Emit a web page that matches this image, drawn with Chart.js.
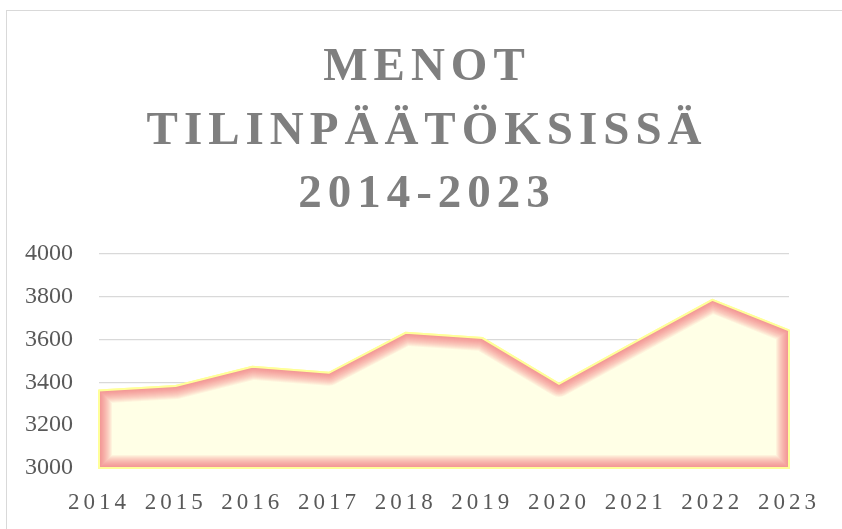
<!DOCTYPE html>
<html>
<head>
<meta charset="utf-8">
<script src="https://cdn.jsdelivr.net/npm/chart.js@4.4.1/dist/chart.umd.min.js"></script>
<style>
  html, body { margin: 0; padding: 0; background: #ffffff; }
  canvas { display: block; }
</style>
</head>
<body>
<canvas id="c" width="842" height="529"></canvas>
<script>
// ---- data ----
const titleLines = ["MENOT", "TILINPÄÄTÖKSISSÄ", "2014-2023"];
const years = ["2014", "2015", "2016", "2017", "2018", "2019", "2020", "2021", "2022", "2023"];
const menot = [3362, 3383, 3473, 3445, 3632, 3607, 3393, 3590, 3786, 3643];
const yMin = 3000;
const yMax = 4000;
const yStep = 200;

const SERIF = '"Liberation Serif", "Times New Roman", serif';
const CREAM = '#FFFFE6';
const EDGE_YELLOW = '#FFFF99';

const frame = {
  id: 'frame',
  beforeDraw(chart) {
    const ctx = chart.ctx;
    ctx.save();
    ctx.fillStyle = '#ffffff';
    ctx.fillRect(0, 0, chart.width, chart.height);
    ctx.strokeStyle = '#D9D9D9';
    ctx.lineWidth = 1;
    ctx.strokeRect(6.5, 10.5, 900, 600);
    ctx.restore();
  }
};

const glow = {
  id: 'glow',
  afterDatasetsDraw(chart) {
    const ctx = chart.ctx;
    const pts = chart.getDatasetMeta(0).data;
    const base = chart.scales.y.getPixelForValue(yMin);
    const path = new Path2D();
    path.moveTo(pts[0].x, base);
    pts.forEach(p => path.lineTo(p.x, p.y));
    path.lineTo(pts[pts.length - 1].x, base);
    path.closePath();

    ctx.save();
    ctx.clip(path);
    ctx.fillStyle = CREAM;
    ctx.fill(path);
    ctx.lineJoin = 'round';
    const N = 13;
    for (let i = N; i >= 1; i--) {
      ctx.lineWidth = 2 * i;
      ctx.strokeStyle = 'rgba(238,100,112,0.075)';
      ctx.stroke(path);
    }
    ctx.restore();

    ctx.save();
    ctx.lineWidth = 2;
    ctx.strokeStyle = EDGE_YELLOW;
    ctx.lineJoin = 'miter';
    ctx.stroke(path);
    ctx.restore();

    // letter spacing for the x tick labels (drawn in a later layer)
    ctx.letterSpacing = '4px';
  },
  afterDraw(chart) {
    const ctx = chart.ctx;
    ctx.save();
    ctx.letterSpacing = '6px';
    ctx.font = 'bold 47px ' + SERIF;
    ctx.fillStyle = '#7F7F7F';
    ctx.textAlign = 'center';
    ctx.textBaseline = 'alphabetic';
    const baselines = [80, 143.5, 207];
    titleLines.forEach((t, i) => ctx.fillText(t, 424 + 3, baselines[i]));
    ctx.restore();
    ctx.letterSpacing = '0px';
  }
};

new Chart(document.getElementById('c'), {
  type: 'line',
  data: {
    labels: years,
    datasets: [{
      label: 'Menot',
      data: menot,
      fill: 'start',
      backgroundColor: CREAM,
      borderColor: EDGE_YELLOW,
      borderWidth: 2,
      pointRadius: 0,
      tension: 0
    }]
  },
  options: {
    responsive: false,
    animation: false,
    events: [],
    layout: { padding: { left: 6, right: 53, top: 254, bottom: 0 } },
    plugins: {
      legend: { display: false },
      title: { display: false },
      tooltip: { enabled: false }
    },
    scales: {
      x: {
        offset: false,
        grid: { display: false, drawTicks: false },
        border: { display: false },
        ticks: {
          z: 1,
          maxRotation: 0,
          autoSkip: false,
          padding: 21,
          color: '#595959',
          font: { family: SERIF, size: 23 }
        },
        afterFit(scale) { scale.height = 61; }
      },
      y: {
        min: yMin,
        max: yMax,
        grid: { color: '#D9D9D9', lineWidth: 1.3, drawTicks: false },
        border: { display: false },
        ticks: {
          stepSize: yStep,
          padding: 26,
          color: '#595959',
          font: { family: SERIF, size: 24 },
          callback: (v) => String(v)
        },
        afterFit(scale) { scale.width = 93; }
      }
    }
  },
  plugins: [frame, glow]
});
</script>
</body>
</html>
